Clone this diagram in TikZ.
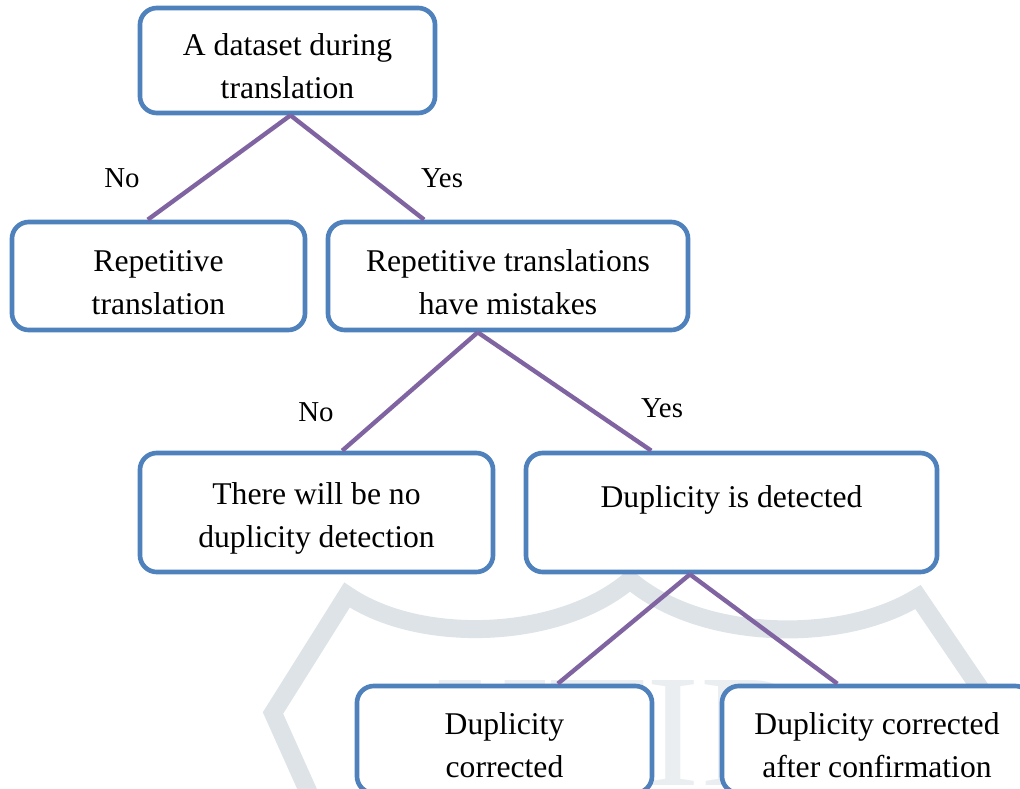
\documentclass[tikz,border=0pt]{standalone}
\usepackage{fontspec}
\usetikzlibrary{calc}
\newfontfamily\boxfont{Liberation Serif}
\newfontfamily\markfont{Liberation Serif}
\definecolor{boxblue}{RGB}{79,129,189}
\definecolor{linkpurple}{RGB}{128,100,162}
\definecolor{shieldgray}{RGB}{221,227,230}
\definecolor{markgray}{RGB}{234,238,240}
\newcommand\lift{\rule{0pt}{24pt}}
\tikzset{
  flowbox/.style={draw=boxblue,line width=3.3pt,rounded corners=12pt,fill=white,
    align=center,font=\boxfont\fontsize{22.5}{30.6}\selectfont},
  link/.style={draw=linkpurple,line width=3.1pt},
  answer/.style={font=\boxfont\fontsize{20.5}{24}\selectfont}
}
\begin{document}
\begin{tikzpicture}[x=.025cm,y=-.025cm]
  \clip (0,0) rectangle (1020,789);
  \useasboundingbox (0,0) rectangle (1020,789);
  \draw[shieldgray,line width=.45cm] (312,800) -- (273,713) -- (347,595)
    .. controls (420,645) and (560,640) .. (630,580)
    .. controls (700,640) and (840,645) .. (918,597) -- (988,700) -- (1030,760);
  \node[markgray,font=\markfont\fontsize{114}{114}\selectfont,anchor=north] (wmark) at (620,676) {IJTIR};
  \node[flowbox,minimum width=7.375cm,minimum height=2.625cm] (dataset) at (287.5,60.5) {\lift A dataset during\\translation};
  \node[flowbox,minimum width=7.325cm,minimum height=2.7cm] (repeat) at (158.5,276) {\lift Repetitive\\translation};
  \node[flowbox,minimum width=9cm,minimum height=2.7cm] (mistake) at (508,276) {\lift Repetitive translations\\have mistakes};
  \node[flowbox,minimum width=8.825cm,minimum height=2.975cm] (nodetect) at (316.5,512.5) {\lift There will be no\\duplicity detection};
  \node[flowbox,minimum width=10.275cm,minimum height=2.975cm] (detect) at (731.5,512.5) {\lift Duplicity is detected\\~};
  \node[flowbox,minimum width=7.375cm,minimum height=2.675cm] (corr) at (504.5,739.5) {\lift Duplicity\\corrected};
  \node[flowbox,minimum width=7.75cm,minimum height=2.675cm] (confirm) at (877,739.5) {\lift Duplicity corrected\\after confirmation};
  \coordinate (apexa) at ($(dataset.south west)!.51!(dataset.south east)$);
  \coordinate (apexb) at ($(mistake.south west)!.417!(mistake.south east)$);
  \coordinate (apexc) at ($(detect.south west)!.40!(detect.south east)$);
  \draw[link] (apexa) -- ($(repeat.north west)!.464!(repeat.north east)$);
  \draw[link] (apexa) -- ($(mistake.north west)!.27!(mistake.north east)$);
  \draw[link] (apexb) -- ($(nodetect.north west)!.572!(nodetect.north east)$);
  \draw[link] (apexb) -- ($(detect.north west)!.307!(detect.north east)$);
  \draw[link] (apexc) -- ($(corr.north west)!.678!(corr.north east)$);
  \draw[link] (apexc) -- ($(confirm.north west)!.374!(confirm.north east)$);
  \node[answer] (noa) at (122,178) {No};
  \node[answer] (yesa) at (442,178) {Yes};
  \node[answer] (nob) at (316,412) {No};
  \node[answer] (yesb) at (662,408) {Yes};
\end{tikzpicture}
\end{document}
